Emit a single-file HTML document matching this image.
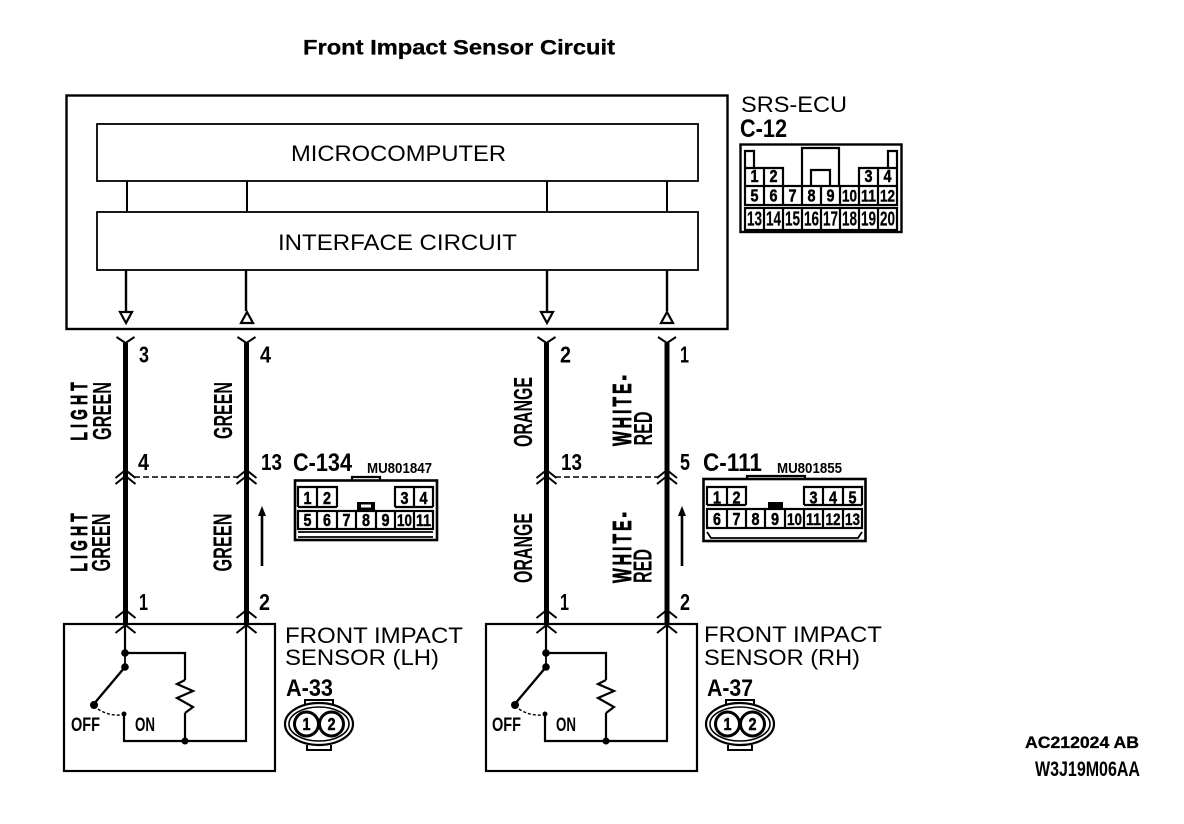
<!DOCTYPE html>
<html><head><meta charset="utf-8"><style>
html,body{margin:0;padding:0;background:#fff}
svg{display:block}
text{font-family:"Liberation Sans",sans-serif;fill:#000}
.n{font-weight:bold;font-size:18px;text-anchor:middle;transform-box:fill-box;transform-origin:center;transform:scaleX(.8);stroke:#000;stroke-width:.5px}
.s{font-weight:bold;font-size:17px;text-anchor:middle;stroke:#000;stroke-width:.4px}
.t{font-weight:bold;font-size:20px;text-anchor:middle;stroke:#000;stroke-width:.2px}
.p{font-weight:bold;font-size:23px}
.w{font-weight:bold;font-size:26px}
.x{font-weight:bold;font-size:23px;stroke:#000;stroke-width:.9px}
.y{font-weight:bold;font-size:26px;stroke:#000;stroke-width:.9px}
</style></head><body>
<svg width="1184" height="824" viewBox="0 0 1184 824" xmlns="http://www.w3.org/2000/svg">
<defs>
<g id="fork"><path d="M-9 -6L0 0L9 -6" fill="none" stroke="#000" stroke-width="2"/></g>
<g id="up"><path d="M-10 7L0 -1L10 7" fill="none" stroke="#000" stroke-width="2"/></g>
</defs>
<rect width="1184" height="824" fill="#fff"/>
<text x="303" y="54.500" font-size="21" font-weight="bold" textLength="312" lengthAdjust="spacingAndGlyphs" stroke="#000" stroke-width=".3">Front Impact Sensor Circuit</text>

<g fill="none" stroke="#000">
<rect x="66.500" y="95.500" width="661" height="233.500" stroke-width="2.400"/>
<rect x="97" y="124" width="601" height="57" stroke-width="1.800"/>
<rect x="97" y="212" width="601" height="58" stroke-width="1.800"/>
<path d="M127 181V212M247 181V212M547 181V212M667 181V212" stroke-width="2"/>
<path d="M126 270V311M246 270V311M547 270V311M667 270V311" stroke-width="2.400"/>
<path d="M120 312H132L126 323Z" stroke-width="2.200"/>
<path d="M541 312H553L547 323Z" stroke-width="2.200"/>
<path d="M241 323H253L247 312Z" stroke-width="2.200"/>
<path d="M661 323H673L667 312Z" stroke-width="2.200"/>
</g>
<text x="291" y="161" font-size="22" textLength="215" lengthAdjust="spacingAndGlyphs">MICROCOMPUTER</text>
<text x="278" y="250" font-size="22" textLength="239" lengthAdjust="spacingAndGlyphs">INTERFACE CIRCUIT</text>

<!-- wires -->
<g stroke="#000" stroke-width="5">
<path d="M125.500 343V624M246.500 343V624M546.500 343V624M667 343V624"/>
</g>
<g>
<use href="#fork" x="125.500" y="343"/><use href="#fork" x="246.500" y="343"/><use href="#fork" x="546.500" y="343"/><use href="#fork" x="667" y="343"/>
<use href="#up" x="125.500" y="471"/><use href="#up" x="125.500" y="477"/>
<use href="#up" x="246.500" y="471"/><use href="#up" x="246.500" y="477"/>
<use href="#up" x="546.500" y="471"/><use href="#up" x="546.500" y="477"/>
<use href="#up" x="667" y="471"/><use href="#up" x="667" y="477"/>
<use href="#up" x="125.500" y="611"/><use href="#up" x="125.500" y="626"/>
<use href="#up" x="246.500" y="611"/><use href="#up" x="246.500" y="626"/>
<use href="#up" x="546.500" y="611"/><use href="#up" x="546.500" y="626"/>
<use href="#up" x="667" y="611"/><use href="#up" x="667" y="626"/>
</g>
<path d="M134 477H238M555 477H658" stroke="#000" stroke-width="1.600" stroke-dasharray="6 3" fill="none"/>
<path d="M262 566V512M682 566V512" stroke="#000" stroke-width="2.600"/>
<path d="M258 516L262 506L266 516ZM678 516L682 506L686 516Z" fill="#000"/>

<!-- pin numbers -->
<g>
<text class="p" x="139" y="362.500" textLength="10" lengthAdjust="spacingAndGlyphs">3</text>
<text class="p" x="260" y="362.500" textLength="11" lengthAdjust="spacingAndGlyphs">4</text>
<text class="p" x="560" y="362.500" textLength="11" lengthAdjust="spacingAndGlyphs">2</text>
<text class="p" x="680" y="362.500" textLength="9" lengthAdjust="spacingAndGlyphs">1</text>
<text class="p" x="138" y="470" textLength="11" lengthAdjust="spacingAndGlyphs">4</text>
<text class="p" x="261" y="470" textLength="21" lengthAdjust="spacingAndGlyphs">13</text>
<text class="p" x="561" y="470" textLength="21" lengthAdjust="spacingAndGlyphs">13</text>
<text class="p" x="680" y="470" textLength="10" lengthAdjust="spacingAndGlyphs">5</text>
<text class="p" x="139" y="610" textLength="9" lengthAdjust="spacingAndGlyphs">1</text>
<text class="p" x="259" y="610" textLength="11" lengthAdjust="spacingAndGlyphs">2</text>
<text class="p" x="560" y="610" textLength="9" lengthAdjust="spacingAndGlyphs">1</text>
<text class="p" x="680" y="610" textLength="10" lengthAdjust="spacingAndGlyphs">2</text>
</g>

<!-- wire colours -->
<g>
<text class="x" transform="translate(87,440.500) rotate(-90) scale(.6,1)" textLength="97" lengthAdjust="spacing">LIGHT</text>
<text class="w" transform="translate(111,440) rotate(-90)" textLength="58" lengthAdjust="spacingAndGlyphs">GREEN</text>
<text class="w" transform="translate(232,439) rotate(-90)" textLength="57" lengthAdjust="spacingAndGlyphs">GREEN</text>
<text class="x" transform="translate(87,571.500) rotate(-90) scale(.6,1)" textLength="97" lengthAdjust="spacing">LIGHT</text>
<text class="w" transform="translate(110,571.500) rotate(-90)" textLength="58" lengthAdjust="spacingAndGlyphs">GREEN</text>
<text class="w" transform="translate(231.500,571.500) rotate(-90)" textLength="58" lengthAdjust="spacingAndGlyphs">GREEN</text>
<text class="w" transform="translate(532,447) rotate(-90)" textLength="70" lengthAdjust="spacingAndGlyphs">ORANGE</text>
<text class="w" transform="translate(532,583) rotate(-90)" textLength="70" lengthAdjust="spacingAndGlyphs">ORANGE</text>
<text class="y" transform="translate(631,446) rotate(-90) scale(.6,1)" textLength="118" lengthAdjust="spacing">WHITE-</text>
<text class="w" transform="translate(652,445.500) rotate(-90)" textLength="34" lengthAdjust="spacingAndGlyphs">RED</text>
<text class="y" transform="translate(631,583) rotate(-90) scale(.6,1)" textLength="118" lengthAdjust="spacing">WHITE-</text>
<text class="w" transform="translate(651.500,583) rotate(-90)" textLength="34" lengthAdjust="spacingAndGlyphs">RED</text>
</g>

<!-- SRS-ECU -->
<text x="741" y="112" font-size="22" textLength="106" lengthAdjust="spacingAndGlyphs">SRS-ECU</text>
<text x="740" y="137" font-size="25" font-weight="bold" textLength="47" lengthAdjust="spacingAndGlyphs">C-12</text>
<g fill="none" stroke="#000" stroke-width="2.200">
<rect x="740.500" y="144.500" width="161" height="87.500" stroke-width="2.400"/>
<path d="M745 168V151H754V168M888 168V151H897V168M802 168V148H839V186M802 168V186M811 186V170H830V186"/>
<path d="M745 168H783V186M745 186V168M764 168V186M859 186V168H897V186M878 168V186"/>
<rect x="745" y="186" width="152" height="19"/>
<path d="M764 186V205M783 186V205M802 186V205M821 186V205M840 186V205M859 186V205M878 186V205"/>
<rect x="745" y="208" width="152" height="22"/>
<path d="M764 208V230M783 208V230M802 208V230M821 208V230M840 208V230M859 208V230M878 208V230"/>
</g>
<g>
<text class="n" x="754.500" y="182">1</text><text class="n" x="773.500" y="182">2</text><text class="n" x="868.500" y="182">3</text><text class="n" x="887.500" y="182">4</text>
<text class="n" x="754.500" y="201.500">5</text><text class="n" x="773.500" y="201.500">6</text><text class="n" x="792.500" y="201.500">7</text><text class="n" x="811.500" y="201.500">8</text><text class="n" x="830.500" y="201.500">9</text>
<text class="s" x="849.500" y="201.500" textLength="15" lengthAdjust="spacingAndGlyphs">10</text><text class="s" x="868.500" y="201.500" textLength="15" lengthAdjust="spacingAndGlyphs">11</text><text class="s" x="887.500" y="201.500" textLength="15" lengthAdjust="spacingAndGlyphs">12</text>
<text class="t" x="754.500" y="225.500" textLength="15" lengthAdjust="spacingAndGlyphs">13</text><text class="t" x="773.500" y="225.500" textLength="15" lengthAdjust="spacingAndGlyphs">14</text><text class="t" x="792.500" y="225.500" textLength="15" lengthAdjust="spacingAndGlyphs">15</text><text class="t" x="811.500" y="225.500" textLength="15" lengthAdjust="spacingAndGlyphs">16</text><text class="t" x="830.500" y="225.500" textLength="15" lengthAdjust="spacingAndGlyphs">17</text><text class="t" x="849.500" y="225.500" textLength="15" lengthAdjust="spacingAndGlyphs">18</text><text class="t" x="868.500" y="225.500" textLength="15" lengthAdjust="spacingAndGlyphs">19</text><text class="t" x="887.500" y="225.500" textLength="15" lengthAdjust="spacingAndGlyphs">20</text>
</g>

<!-- C-134 -->
<text x="293" y="471" font-size="25" font-weight="bold" textLength="59" lengthAdjust="spacingAndGlyphs">C-134</text>
<text x="367" y="473" font-size="15" font-weight="bold" textLength="65" lengthAdjust="spacingAndGlyphs">MU801847</text>
<g fill="none" stroke="#000" stroke-width="2.200">
<rect x="295" y="480.500" width="142" height="59.500" stroke-width="2.600"/>
<path d="M352 480V477H380V480"/>
<path d="M298 507V487H337V507M298 507H337M317 487V507"/>
<path d="M395 507V487H433V507M395 507H433M414 487V507"/>
<rect x="298" y="511" width="135" height="18"/>
<path d="M317 511V529M337 511V529M356 511V529M376 511V529M395 511V529M414 511V529"/>
<path d="M298 532H433M298 537H433" stroke-width="1.800"/>
</g>
<rect x="357" y="502" width="18" height="8" fill="#000"/><rect x="361" y="504.500" width="10" height="3" fill="#fff"/>
<g>
<text class="n" x="307.500" y="504">1</text><text class="n" x="327" y="504">2</text><text class="n" x="404.500" y="504">3</text><text class="n" x="423.500" y="504">4</text>
<text class="n" x="307.500" y="526">5</text><text class="n" x="327" y="526">6</text><text class="n" x="346.500" y="526">7</text><text class="n" x="366" y="526">8</text><text class="n" x="385.500" y="526">9</text>
<text class="s" x="404.500" y="526" textLength="15" lengthAdjust="spacingAndGlyphs">10</text><text class="s" x="423.500" y="526" textLength="15" lengthAdjust="spacingAndGlyphs">11</text>
</g>

<!-- C-111 -->
<text x="703" y="471" font-size="25" font-weight="bold" textLength="59" lengthAdjust="spacingAndGlyphs">C-111</text>
<text x="777" y="473" font-size="15" font-weight="bold" textLength="65" lengthAdjust="spacingAndGlyphs">MU801855</text>
<g fill="none" stroke="#000" stroke-width="2.200">
<rect x="703.500" y="479" width="162" height="62" stroke-width="2.600"/>
<path d="M747 479V476H805V479"/>
<path d="M707 505V487H746V505M707 505H746M727 487V505"/>
<path d="M804 505V487H862V505M804 505H862M823 487V505M843 487V505"/>
<rect x="707" y="509" width="155" height="19"/>
<path d="M727 509V528M746 509V528M765 509V528M785 509V528M804 509V528M823 509V528M843 509V528"/>
<path d="M707 532L711 538H858L862 532" stroke-width="1.800"/>
</g>
<rect x="768" y="502" width="15" height="7" fill="#000"/>
<g>
<text class="n" x="717" y="503.500">1</text><text class="n" x="736.500" y="503.500">2</text><text class="n" x="813.500" y="503.500">3</text><text class="n" x="833" y="503.500">4</text><text class="n" x="852.500" y="503.500">5</text>
<text class="n" x="717" y="525">6</text><text class="n" x="736.500" y="525">7</text><text class="n" x="755.500" y="525">8</text><text class="n" x="775" y="525">9</text>
<text class="s" x="794.500" y="525" textLength="15" lengthAdjust="spacingAndGlyphs">10</text><text class="s" x="813.500" y="525" textLength="15" lengthAdjust="spacingAndGlyphs">11</text><text class="s" x="833" y="525" textLength="15" lengthAdjust="spacingAndGlyphs">12</text><text class="s" x="852.500" y="525" textLength="15" lengthAdjust="spacingAndGlyphs">13</text>
</g>

<!-- Sensor LH -->
<g>
<rect x="64" y="624" width="211" height="147" fill="none" stroke="#000" stroke-width="2.200"/>
<path d="M125 625V653H185V680M185 713V741M246 625V741H124V716" fill="none" stroke="#000" stroke-width="2.200"/>
<path d="M185 680L177 684L193 691L177 698L193 707L185 713" fill="none" stroke="#000" stroke-width="2.200"/>
<path d="M125 667L93 705" fill="none" stroke="#000" stroke-width="2.400"/>
<path d="M125 653V667" stroke="#000" stroke-width="1.800"/>
<circle cx="125" cy="653" r="3.800"/><circle cx="125" cy="667" r="3.800"/><circle cx="94" cy="705" r="4"/><circle cx="124" cy="714" r="2.500"/><circle cx="185" cy="741" r="3.500"/>
<path d="M98 709Q108 716 122 715" fill="none" stroke="#000" stroke-width="1.400" stroke-dasharray="3 2"/>
<text x="71" y="731" font-size="19" font-weight="bold" textLength="29" lengthAdjust="spacingAndGlyphs">OFF</text>
<text x="135" y="731" font-size="19" font-weight="bold" textLength="20" lengthAdjust="spacingAndGlyphs">ON</text>
</g>
<!-- Sensor RH -->
<g>
<rect x="486" y="624" width="211" height="147" fill="none" stroke="#000" stroke-width="2.200"/>
<path d="M546 625V653H606V680M606 713V741M667 625V741H545V716" fill="none" stroke="#000" stroke-width="2.200"/>
<path d="M606 680L598 684L614 691L598 698L614 707L606 713" fill="none" stroke="#000" stroke-width="2.200"/>
<path d="M546 667L514 705" fill="none" stroke="#000" stroke-width="2.400"/>
<path d="M546 653V667" stroke="#000" stroke-width="1.800"/>
<circle cx="546" cy="653" r="3.800"/><circle cx="546" cy="667" r="3.800"/><circle cx="515" cy="705" r="4"/><circle cx="545" cy="714" r="2.500"/><circle cx="606" cy="741" r="3.500"/>
<path d="M519 709Q529 716 543 715" fill="none" stroke="#000" stroke-width="1.400" stroke-dasharray="3 2"/>
<text x="492" y="731" font-size="19" font-weight="bold" textLength="29" lengthAdjust="spacingAndGlyphs">OFF</text>
<text x="556" y="731" font-size="19" font-weight="bold" textLength="20" lengthAdjust="spacingAndGlyphs">ON</text>
</g>

<text x="285" y="643" font-size="22" textLength="178" lengthAdjust="spacingAndGlyphs">FRONT IMPACT</text>
<text x="285" y="665" font-size="22" textLength="154" lengthAdjust="spacingAndGlyphs">SENSOR (LH)</text>
<text x="704" y="642" font-size="22" textLength="178" lengthAdjust="spacingAndGlyphs">FRONT IMPACT</text>
<text x="704" y="665" font-size="22" textLength="156" lengthAdjust="spacingAndGlyphs">SENSOR (RH)</text>
<text x="286" y="696" font-size="24" font-weight="bold" textLength="47" lengthAdjust="spacingAndGlyphs">A-33</text>
<text x="707" y="696" font-size="24" font-weight="bold" textLength="46" lengthAdjust="spacingAndGlyphs">A-37</text>

<!-- round connectors -->
<g fill="none" stroke="#000">
<g transform="translate(319,724)">
<ellipse cx="0" cy="0" rx="34" ry="21" stroke-width="2.200"/>
<ellipse cx="0" cy="0" rx="30" ry="17" stroke-width="1.600"/>
<path d="M-12 21V26H12V21M-14 -20V-24H14V-20" stroke-width="2"/>
<circle cx="-12.500" cy="0" r="12" fill="#fff" stroke-width="3"/><circle cx="12.500" cy="0" r="12" fill="#fff" stroke-width="3"/>
</g>
<g transform="translate(740,724)">
<ellipse cx="0" cy="0" rx="34" ry="21" stroke-width="2.200"/>
<ellipse cx="0" cy="0" rx="30" ry="17" stroke-width="1.600"/>
<path d="M-12 21V26H12V21M-14 -20V-24H14V-20" stroke-width="2"/>
<circle cx="-12.500" cy="0" r="12" fill="#fff" stroke-width="3"/><circle cx="12.500" cy="0" r="12" fill="#fff" stroke-width="3"/>
</g>
</g>
<text class="n" x="306.500" y="730">1</text><text class="n" x="331.500" y="730">2</text>
<text class="n" x="727.500" y="730">1</text><text class="n" x="752.500" y="730">2</text>

<text x="1025" y="748" font-size="17" font-weight="bold" textLength="114" lengthAdjust="spacingAndGlyphs" stroke="#000" stroke-width=".3">AC212024 AB</text>
<text x="1035" y="776" font-size="21" font-weight="bold" textLength="105" lengthAdjust="spacingAndGlyphs">W3J19M06AA</text>
</svg>
</body></html>
